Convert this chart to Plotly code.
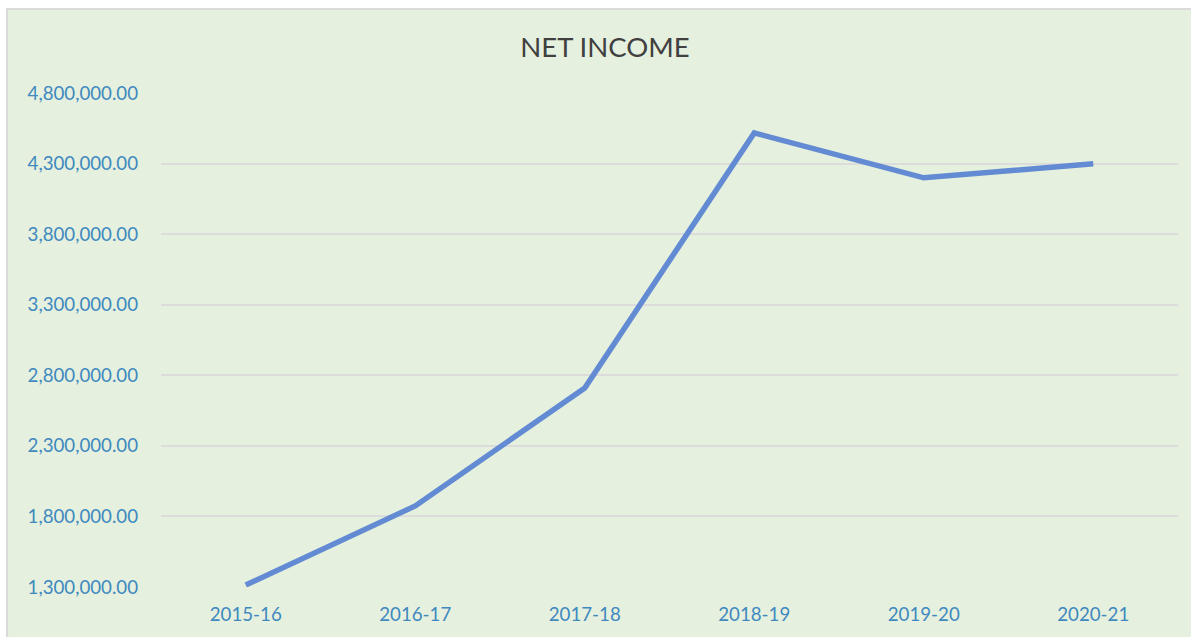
import plotly.graph_objects as go

# Net income by financial year
years = ["2015-16", "2016-17", "2017-18", "2018-19", "2019-20", "2020-21"]
net_income = [1314000, 1874000, 2710000, 4517000, 4199000, 4298000]

y_ticks = [1300000, 1800000, 2300000, 2800000, 3300000, 3800000, 4300000, 4800000]

fig = go.Figure(
    go.Scatter(
        x=years,
        y=net_income,
        mode="lines",
        line=dict(color="#638BD3", width=5.5),
        hoverinfo="x+y",
    )
)

fig.update_layout(
    width=1191,
    height=637,
    margin=dict(l=161, r=13, t=93, b=50),
    paper_bgcolor="white",
    plot_bgcolor="rgba(0,0,0,0)",
    showlegend=False,
    title=dict(
        text="NET INCOME",
        x=605 / 1191,
        xref="container",
        xanchor="center",
        y=1 - 47 / 637,
        yanchor="middle",
        font=dict(family="Lato", size=27.5, color="#404040"),
    ),
    font=dict(family="Lato", size=18.7, color="#3F89BF"),
    shapes=[
        dict(
            type="rect",
            xref="paper",
            yref="paper",
            x0=-0.1514,
            x1=1.1,
            y0=-0.2,
            y1=1.170,
            fillcolor="#E5F0DE",
            line=dict(color="#DADADA", width=2),
            layer="below",
        )
    ],
)

fig.update_xaxes(
    type="category",
    range=[-0.5, 5.5],
    showgrid=False,
    showline=False,
    zeroline=False,
    ticks="",
    ticklabelstandoff=14,
    tickfont=dict(family="Lato", size=18.7, color="#3F89BF"),
)

fig.update_yaxes(
    range=[1300000, 4800000],
    tickvals=y_ticks,
    tickformat=",.2f",
    showgrid=True,
    gridcolor="#DCDCDC",
    gridwidth=1.5,
    zeroline=False,
    showline=False,
    ticks="",
    ticklabelstandoff=22,
    tickfont=dict(family="Lato", size=18.7, color="#3F89BF"),
)

fig.write_html("out.html")
